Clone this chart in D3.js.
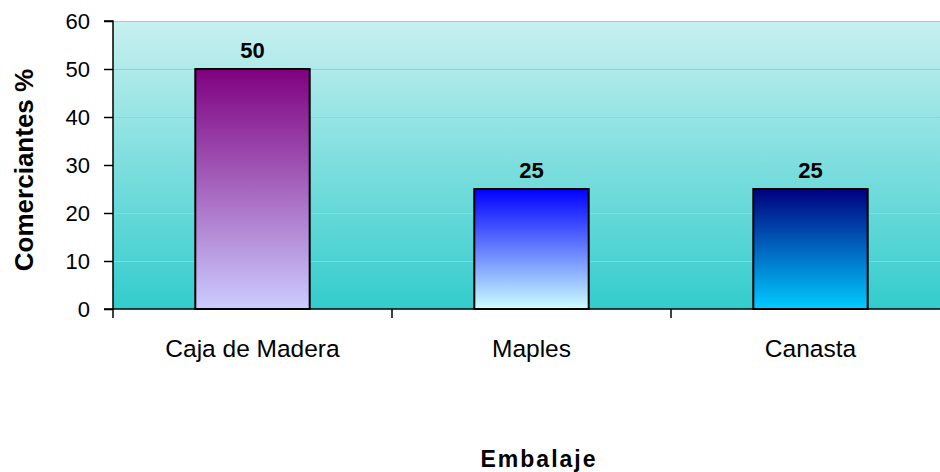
<!DOCTYPE html>
<html>
<head>
<meta charset="utf-8">
<script src="https://cdn.jsdelivr.net/npm/d3@7/dist/d3.min.js"></script>
<style>
  html, body { margin: 0; padding: 0; background: #fff; }
  svg { display: block; font-family: "Liberation Sans", Arial, sans-serif; }
</style>
</head>
<body>
<svg id="chart" width="940" height="472"></svg>
<script>
// Packaging type used by merchants (percent)
const categories = ["Caja de Madera", "Maples", "Canasta"];
const values = [50, 25, 25];
const barTopColors = ["#800080", "#0000ff", "#000080"];
const barBottomColors = ["#ccccff", "#ccffff", "#00ccff"];
const yTicks = [0, 10, 20, 30, 40, 50, 60];

const svg = d3.select("#chart");
const margin = { left: 113, top: 21, right: -10, bottom: 163 };
const W = 940, H = 472;
const plotW = W - margin.left - margin.right;
const plotH = H - margin.top - margin.bottom;

const x = d3.scaleBand().domain(categories).range([0, plotW]).paddingInner(0.59).paddingOuter(0.295);
const xTickScale = d3.scaleLinear().domain([0, categories.length]).range([0, plotW]);
const y = d3.scaleLinear().domain([0, 60]).range([plotH, 0]);

const defs = svg.append("defs");
const bg = defs.append("linearGradient").attr("id", "bg").attr("x1", 0).attr("y1", 0).attr("x2", 0).attr("y2", 1);
bg.append("stop").attr("offset", "0%").attr("stop-color", "#c8f0f0");
bg.append("stop").attr("offset", "100%").attr("stop-color", "#33cccc");

categories.forEach((c, i) => {
  const g = defs.append("linearGradient").attr("id", "bar" + i).attr("x1", 0).attr("y1", 0).attr("x2", 0).attr("y2", 1);
  g.append("stop").attr("offset", "0%").attr("stop-color", barTopColors[i]);
  g.append("stop").attr("offset", "100%").attr("stop-color", barBottomColors[i]);
});

const g = svg.append("g").attr("transform", `translate(${margin.left},${margin.top})`);

// plot area background
g.append("rect").attr("x", 0).attr("y", 0).attr("width", plotW).attr("height", plotH).attr("fill", "url(#bg)");

// horizontal gridlines
g.selectAll(".grid").data(yTicks.filter(t => t > 0)).join("line")
  .attr("x1", 0).attr("x2", plotW)
  .attr("y1", d => y(d) + 0.5).attr("y2", d => y(d) + 0.5)
  .attr("stroke", "#c0c0c0").attr("stroke-width", 1);

// bars
g.selectAll(".bar").data(values).join("rect")
  .attr("x", (d, i) => x(categories[i]))
  .attr("y", d => y(d))
  .attr("width", x.bandwidth())
  .attr("height", d => plotH - y(d))
  .attr("fill", (d, i) => `url(#bar${i})`)
  .attr("stroke", "#000").attr("stroke-width", 2);

// value labels
g.selectAll(".val").data(values).join("text")
  .attr("x", (d, i) => x(categories[i]) + x.bandwidth() / 2)
  .attr("y", d => y(d) - 11)
  .attr("text-anchor", "middle")
  .attr("font-size", 22).attr("font-weight", "bold").attr("fill", "#000")
  .text(d => d);

// y axis
const yAxis = d3.axisLeft(y).tickValues(yTicks).tickSize(9).tickPadding(14);
const ya = g.append("g").call(yAxis);
ya.select(".domain").attr("stroke", "#000").attr("stroke-width", 1.5).attr("d", `M-9,${plotH}H0V0H-9`);
ya.selectAll(".tick line").attr("stroke", "#000").attr("stroke-width", 1.5);
ya.selectAll(".tick text").attr("font-size", 22).attr("fill", "#000").attr("font-family", "Liberation Sans, Arial, sans-serif");

// x axis
const xa = g.append("g").attr("transform", `translate(0,${plotH})`);
xa.append("line").attr("x1", 0).attr("x2", plotW).attr("y1", 0).attr("y2", 0).attr("stroke", "#000").attr("stroke-width", 1.5);
xa.selectAll(".xt").data(d3.range(categories.length + 1)).join("line")
  .attr("x1", d => xTickScale(d)).attr("x2", d => xTickScale(d))
  .attr("y1", 0).attr("y2", 9).attr("stroke", "#000").attr("stroke-width", 1.5);
xa.selectAll(".xl").data(categories).join("text")
  .attr("x", d => x(d) + x.bandwidth() / 2)
  .attr("y", 48)
  .attr("text-anchor", "middle").attr("font-size", 24.5).attr("fill", "#000")
  .text(d => d);

// axis titles
svg.append("text")
  .attr("x", 539).attr("y", 467)
  .attr("text-anchor", "middle").attr("font-size", 23).attr("font-weight", "bold")
  .attr("letter-spacing", 2)
  .text("Embalaje");

svg.append("text")
  .attr("transform", `translate(33,170) rotate(-90)`)
  .attr("text-anchor", "middle").attr("font-size", 26).attr("font-weight", "bold")
  .text("Comerciantes %");
</script>
</body>
</html>
